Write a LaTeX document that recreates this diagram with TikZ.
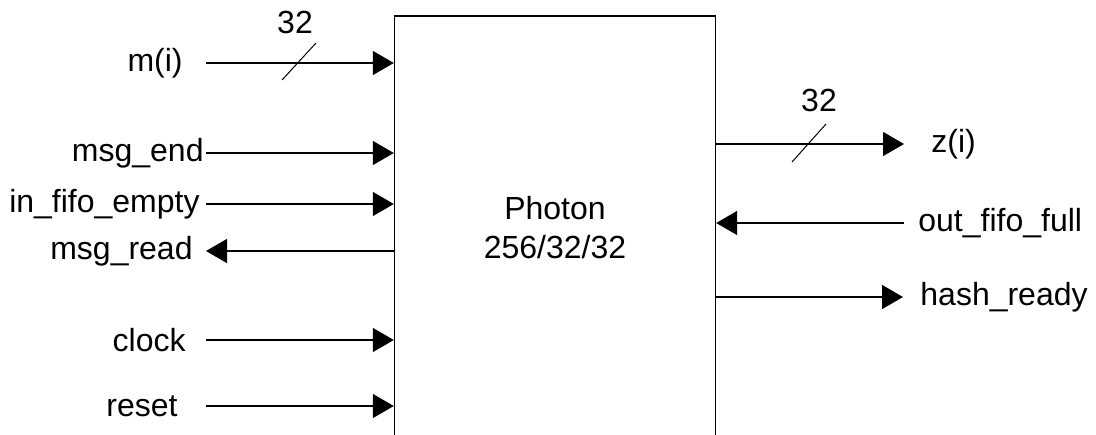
\documentclass[tikz,border=0pt]{standalone}
\usepackage{fontspec}
\setmainfont{Liberation Sans}
\usetikzlibrary{arrows.meta,positioning}
\tikzset{
  sig/.style={line width=0.7pt, -{Triangle[length=10.5pt,width=12pt]}},
  pinlabel/.style={font=\fontsize{16}{19.5}\selectfont, inner sep=0pt},
  bus/.style={line width=0.5pt},
}
\begin{document}
\begin{tikzpicture}[x=0.5pt,y=-0.5pt]
  \useasboundingbox (0,0) rectangle (1096,434);
  % Block
  \node[draw, line width=0.7pt, minimum width=160.5pt, minimum height=212pt,
        inner sep=0pt, align=center, font=\fontsize{16}{19.5}\selectfont]
        (photon) at (555,228) {Photon\\256/32/32};
  % Inputs
  \foreach \name/\y/\xe/\txt in {mi/63/183/m(i), msgend/153/204/msg\_end,
      fifoempty/204/200/in\_fifo\_empty, clock/340/186/clock, reset/406/178/reset} {
    \coordinate (\name) at (206,\y);
    \node[pinlabel, anchor=east] (\name-lbl) at (\xe,\y) {\txt};
    \draw[sig] (\name) -- (\name -| photon.west);
  }
  \coordinate (msgread) at (206,251);
  \node[pinlabel, anchor=east] (msgread-lbl) at (193,251) {msg\_read};
  \draw[sig] (msgread -| photon.west) -- (msgread);
  % Outputs
  \coordinate (zi) at (904,144);
  \node[pinlabel, anchor=west] (zi-lbl) at (931,144) {z(i)};
  \draw[sig] (zi -| photon.east) -- (zi);
  \coordinate (fifofull) at (904,223);
  \node[pinlabel, anchor=west] (fifofull-lbl) at (918,223) {out\_fifo\_full};
  \draw[sig] (fifofull) -- (fifofull -| photon.east);
  \coordinate (hashready) at (903,297);
  \node[pinlabel, anchor=west] (hashready-lbl) at (920,297) {hash\_ready};
  \draw[sig] (hashready -| photon.east) -- (hashready);
  % Bus widths
  \draw[bus] (282,80) -- (316,43);
  \node[pinlabel] (mi-width) at (295,22) {32};
  \draw[bus] (792,162) -- (826,124);
  \node[pinlabel] (zi-width) at (819,100) {32};
\end{tikzpicture}
\end{document}
